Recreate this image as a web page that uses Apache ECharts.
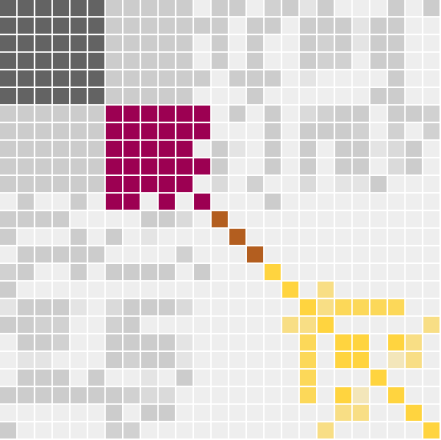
<!DOCTYPE html>
<html>
<head>
<meta charset="utf-8">
<script src="https://cdn.jsdelivr.net/npm/echarts@6/dist/echarts.min.js"></script>
<style>html,body{margin:0;padding:0;background:#fff;}#chart{width:441px;height:440px;}</style>
</head>
<body>
<div id="chart"></div>
<script>
// node index labels (rows/columns of the matrix)
const nodes = Array.from({length: 25}, (_, i) => String(i));
// group of each node
const nodeGroups = [0,0,0,0,0,0, 1,1,1,1,1,1, 2,2,2, 3,3,3,3,3,3,3,3,3,3];
// link strength matrix (0 = none, 1..4 = increasing strength)
const matrix = [
  [4,4,4,4,4,4,4,4,4,4,4,0,4,4,0,3,4,1,4,0,0,0,4,0,4],
  [4,4,4,4,4,4,4,4,4,4,4,4,4,0,4,4,0,4,4,4,1,4,4,0,0],
  [4,4,4,4,4,4,4,4,4,4,4,0,4,0,4,0,0,4,3,4,1,4,4,0,0],
  [4,4,4,4,4,4,4,4,4,4,4,0,4,0,4,0,0,4,3,3,0,4,4,0,0],
  [4,4,4,4,4,4,4,4,4,4,4,4,0,4,4,4,0,1,0,0,0,0,4,0,0],
  [4,4,4,4,4,4,4,4,4,4,4,0,0,0,4,0,0,0,0,0,0,4,4,0,0],
  [4,4,4,4,4,4,4,4,4,4,4,4,0,4,0,4,0,2,3,4,4,0,4,4,3],
  [4,4,4,4,4,4,4,4,4,4,4,4,0,0,0,4,0,4,4,4,3,0,3,0,3],
  [4,4,4,4,4,4,4,4,4,4,4,0,4,1,0,4,0,4,0,4,4,1,2,4,0],
  [4,4,4,4,4,4,4,4,4,4,4,4,4,0,0,4,0,4,0,4,4,0,2,4,0],
  [4,4,4,4,4,4,4,4,4,4,4,0,2,0,3,0,0,2,0,1,1,4,0,0,0],
  [0,4,0,0,4,0,4,4,0,4,0,4,0,0,0,4,0,0,0,0,0,0,0,0,0],
  [4,4,4,4,0,0,0,0,4,4,2,0,4,0,0,0,0,0,0,0,0,0,0,0,0],
  [4,0,0,0,4,0,4,0,1,0,0,0,0,4,0,0,0,0,0,0,0,0,0,0,0],
  [0,4,4,4,4,4,0,0,0,0,3,0,0,0,4,0,0,0,0,0,0,0,0,0,0],
  [3,4,0,0,4,0,4,4,4,4,0,4,0,0,0,4,0,0,0,0,0,0,0,0,0],
  [4,0,0,0,0,0,0,0,0,0,0,0,0,0,0,0,4,0,2,0,0,0,0,0,0],
  [1,4,4,4,1,0,2,4,4,4,2,0,0,0,0,0,0,4,2,3,3,3,3,0,0],
  [4,4,3,3,0,0,3,4,0,0,0,0,0,0,0,0,2,2,4,0,0,0,0,0,2],
  [0,4,4,3,0,0,4,4,4,4,1,0,0,0,0,0,0,3,0,4,4,0,4,2,0],
  [0,1,1,0,0,0,4,3,4,4,1,0,0,0,0,0,0,3,0,4,4,0,1,2,0],
  [0,4,4,4,0,4,0,0,1,0,4,0,0,0,0,0,0,3,0,0,0,4,0,0,0],
  [4,4,4,4,4,4,4,3,2,2,0,0,0,0,0,0,0,3,0,4,1,0,4,0,0],
  [0,0,0,0,0,0,4,0,4,4,0,0,0,0,0,0,0,0,0,2,2,0,0,4,0],
  [4,0,0,0,0,0,3,3,0,0,0,0,0,0,0,0,0,0,2,0,0,0,0,0,4]
];

// styling
const groupColors = ['#636363', '#9c0052', '#b35e1f', '#ffd43f'];
const crossColor = '#cccccc';
const emptyColor = '#eeeeee';
const levelAlpha = [0, 0.3, 0.6, 0.85, 1];
const gap = 1.5;

function hexToRgb(h) {
  return [parseInt(h.slice(1,3),16), parseInt(h.slice(3,5),16), parseInt(h.slice(5,7),16)];
}
function blend(fg, bg, a) {
  const f = hexToRgb(fg), b = hexToRgb(bg);
  const c = f.map((v, k) => Math.round(v * a + b[k] * (1 - a)));
  return 'rgb(' + c.join(',') + ')';
}

const data = [];
for (let i = 0; i < nodes.length; i++) {
  for (let j = 0; j < nodes.length; j++) {
    const v = matrix[i][j];
    let color = emptyColor;
    if (v > 0) {
      const base = nodeGroups[i] === nodeGroups[j] ? groupColors[nodeGroups[i]] : crossColor;
      color = blend(base, emptyColor, levelAlpha[v]);
    }
    data.push({ value: [j, i, v], itemStyle: { color: color } });
  }
}

const chart = echarts.init(document.getElementById('chart'), null, { renderer: 'canvas' });
chart.setOption({
  animation: false,
  backgroundColor: '#ffffff',
  grid: { left: 0, top: 0, right: 0, bottom: 0 },
  xAxis: { type: 'category', data: nodes, show: false },
  yAxis: { type: 'category', data: nodes, inverse: true, show: false },
  series: [{
    type: 'custom',
    data: data,
    renderItem: function (params, api) {
      const p = api.coord([api.value(0), api.value(1)]);
      const s = api.size([1, 1]);
      return {
        type: 'rect',
        shape: { x: p[0] - s[0] / 2, y: p[1] - s[1] / 2, width: s[0] - gap, height: s[1] - gap },
        style: { fill: api.visual('color') }
      };
    }
  }]
});
</script>
</body>
</html>
